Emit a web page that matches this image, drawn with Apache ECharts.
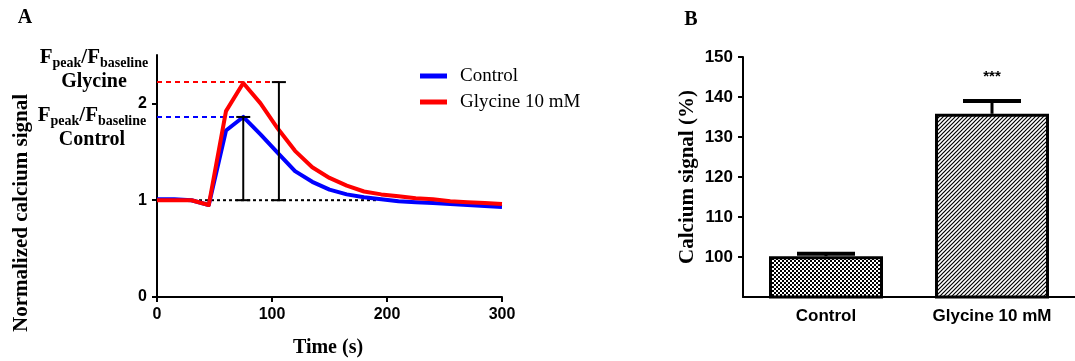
<!DOCTYPE html>
<html>
<head>
<meta charset="utf-8">
<script src="https://cdn.jsdelivr.net/npm/echarts@6/dist/echarts.min.js"></script>
<style>
html,body{margin:0;padding:0;background:#fff;}
#chart{width:1075px;height:361px;}
</style>
</head>
<body>
<div id="chart"></div>
<script>
// ---- Panel A data ----
const times = [0,15,30,45,60,75,90,105,120,135,150,165,180,195,210,225,240,255,270,285,300];
const controlSignal = [1.01,1.01,1.00,0.95,1.72,1.86,1.68,1.49,1.30,1.19,1.11,1.06,1.03,1.01,0.99,0.98,0.97,0.96,0.95,0.94,0.93];
const glycineSignal = [1.00,1.00,1.00,0.95,1.92,2.21,2.00,1.74,1.51,1.34,1.23,1.15,1.09,1.06,1.04,1.02,1.01,0.99,0.98,0.97,0.96];
const baselineValue = 1;
const baselineEnd = 191;
const peakTimes = [75, 106];
const peakValues = [1.86, 2.22];
const peakDashEnds = [80, 106];
const xTicksA = [0, 100, 200, 300];
const yTicksA = [0, 1, 2];

// ---- Panel B data ----
const barCategories = ['Control', 'Glycine 10 mM'];
const barMeans = [100.2, 135.8];
const barErrors = [0.6, 3.2];
const sigLabels = ['', '***'];
const yTicksB = [100, 110, 120, 130, 140, 150];

// ---- patterns ----
function checkerPattern() {
  const c = document.createElement('canvas');
  c.width = 4; c.height = 4;
  const g = c.getContext('2d');
  g.fillStyle = '#000'; g.fillRect(0, 0, 4, 4);
  g.fillStyle = '#fff'; g.fillRect(0, 0, 2, 2); g.fillRect(2, 2, 2, 2);
  return c;
}
function hatchPattern() {
  const s = 4;
  const c = document.createElement('canvas');
  c.width = s; c.height = s;
  const g = c.getContext('2d');
  g.fillStyle = '#fff'; g.fillRect(0, 0, s, s);
  g.strokeStyle = '#000'; g.lineWidth = 1.2;
  g.beginPath();
  g.moveTo(-1, s + 1); g.lineTo(s + 1, -1);
  g.moveTo(-1, 1); g.lineTo(1, -1);
  g.moveTo(s - 1, s + 1); g.lineTo(s + 1, s - 1);
  g.stroke();
  return c;
}
const patterns = [checkerPattern(), hatchPattern()];

const SERIF = 'Liberation Serif';
const SANS = 'Liberation Sans';
const axisLine = { lineStyle: { color: '#000', width: 2 } };
const axisTick = { length: 5, lineStyle: { color: '#000', width: 2 } };

const chart = echarts.init(document.getElementById('chart'), null, { renderer: 'canvas' });

const option = {
  animation: false,
  backgroundColor: '#fff',
  grid: [
    { left: 157, top: 55, width: 345, height: 242 },
    { left: 743, top: 57, width: 342, height: 240 }
  ],
  legend: {
    data: ['Control', 'Glycine 10 mM'],
    left: 415, top: 59, orient: 'vertical',
    itemWidth: 27, itemHeight: 5, itemGap: 2,
    icon: 'rect', selectedMode: false,
    textStyle: { fontFamily: SERIF, fontSize: 19, color: '#000', lineHeight: 24, padding: [0, 0, 0, 8] }
  },
  xAxis: [
    {
      type: 'value', gridIndex: 0, min: 0, max: 300, interval: 100,
      axisLine: axisLine, axisTick: Object.assign({ customValues: xTicksA }, axisTick),
      splitLine: { show: false },
      axisLabel: { customValues: xTicksA, margin: 10, fontFamily: SANS, fontWeight: 'bold', fontSize: 16, color: '#000' }
    },
    {
      type: 'category', gridIndex: 1, data: barCategories,
      axisLine: axisLine,
      axisTick: { alignWithLabel: true, length: 6, lineStyle: { color: '#000', width: 2 } },
      axisLabel: { margin: 11, fontFamily: SANS, fontWeight: 'bold', fontSize: 17, color: '#000' }
    }
  ],
  yAxis: [
    {
      type: 'value', gridIndex: 0, min: 0, max: 2.5, interval: 0.5,
      axisLine: { show: true, lineStyle: { color: '#000', width: 2 } },
      axisTick: Object.assign({ show: true, customValues: yTicksA }, axisTick),
      splitLine: { show: false },
      axisLabel: { customValues: yTicksA, margin: 10, fontFamily: SANS, fontWeight: 'bold', fontSize: 16, color: '#000' }
    },
    {
      type: 'value', gridIndex: 1, min: 90, max: 150, interval: 10,
      axisLine: { show: true, lineStyle: { color: '#000', width: 2 } },
      axisTick: Object.assign({ show: true, customValues: yTicksB }, axisTick),
      splitLine: { show: false },
      axisLabel: { customValues: yTicksB, margin: 10, fontFamily: SANS, fontWeight: 'bold', fontSize: 17, color: '#000' }
    }
  ],
  series: [
    {
      name: 'baseline', type: 'line', xAxisIndex: 0, yAxisIndex: 0, symbol: 'none', silent: true,
      data: [[0, baselineValue], [baselineEnd, baselineValue]],
      lineStyle: { color: '#000', width: 2, type: [3, 3] }, z: 1
    },
    {
      name: 'peakControlLine', type: 'line', xAxisIndex: 0, yAxisIndex: 0, symbol: 'none', silent: true,
      data: [[0, peakValues[0]], [peakDashEnds[0], peakValues[0]]],
      lineStyle: { color: '#0000ff', width: 2, type: [5, 4] }, z: 1
    },
    {
      name: 'peakGlycineLine', type: 'line', xAxisIndex: 0, yAxisIndex: 0, symbol: 'none', silent: true,
      data: [[0, peakValues[1]], [peakDashEnds[1], peakValues[1]]],
      lineStyle: { color: '#ff0000', width: 2, type: [5, 4] }, z: 1
    },
    {
      name: 'Control', type: 'line', xAxisIndex: 0, yAxisIndex: 0, symbol: 'none',
      data: times.map((t, i) => [t, controlSignal[i]]),
      itemStyle: { color: '#0000ff' },
      lineStyle: { color: '#0000ff', width: 4, join: 'round' }, z: 3
    },
    {
      name: 'Glycine 10 mM', type: 'line', xAxisIndex: 0, yAxisIndex: 0, symbol: 'none',
      data: times.map((t, i) => [t, glycineSignal[i]]),
      itemStyle: { color: '#ff0000' },
      lineStyle: { color: '#ff0000', width: 4, join: 'round' }, z: 4
    },
    {
      name: 'peakBars', type: 'custom', xAxisIndex: 0, yAxisIndex: 0, silent: true, z: 5,
      data: peakTimes.map((t, i) => [t, baselineValue, peakValues[i]]),
      encode: { x: 0, y: [1, 2] },
      renderItem: function (params, api) {
        const lo = api.coord([api.value(0), api.value(1)]);
        const hi = api.coord([api.value(0), api.value(2)]);
        const w = 7;
        const st = { stroke: '#000', lineWidth: 2 };
        return {
          type: 'group', children: [
            { type: 'line', shape: { x1: lo[0], y1: lo[1], x2: hi[0], y2: hi[1] }, style: st },
            { type: 'line', shape: { x1: lo[0] - w, y1: lo[1], x2: lo[0] + w, y2: lo[1] }, style: st },
            { type: 'line', shape: { x1: hi[0] - w, y1: hi[1], x2: hi[0] + w, y2: hi[1] }, style: st }
          ]
        };
      }
    },
    {
      name: 'bars', type: 'bar', xAxisIndex: 1, yAxisIndex: 1, barWidth: 114,
      data: barMeans.map((v, i) => ({
        value: v,
        itemStyle: { color: { image: patterns[i], repeat: 'repeat' }, borderColor: '#000', borderWidth: 3 }
      })),
      z: 2
    },
    {
      name: 'barErrors', type: 'custom', xAxisIndex: 1, yAxisIndex: 1, silent: true, z: 3,
      data: barMeans.map((v, i) => [i, v, v + barErrors[i]]),
      encode: { x: 0, y: [1, 2] },
      renderItem: function (params, api) {
        const lo = api.coord([api.value(0), api.value(1)]);
        const hi = api.coord([api.value(0), api.value(2)]);
        const w = 29;
        const children = [
          { type: 'line', shape: { x1: lo[0], y1: lo[1], x2: hi[0], y2: hi[1] }, style: { stroke: '#000', lineWidth: 3 } },
          { type: 'line', shape: { x1: hi[0] - w, y1: hi[1], x2: hi[0] + w, y2: hi[1] }, style: { stroke: '#000', lineWidth: 4 } }
        ];
        const s = sigLabels[params.dataIndex];
        if (s) {
          children.push({ type: 'text', x: hi[0], y: hi[1] - 24,
            style: { text: s, fontFamily: SANS, fontWeight: 'bold', fontSize: 15, fill: '#000', align: 'center', verticalAlign: 'middle' } });
        }
        return { type: 'group', children: children };
      }
    }
  ],
  graphic: [
    { type: 'text', x: 25, y: 18, style: { text: 'A', fontFamily: SERIF, fontWeight: 'bold', fontSize: 20, fill: '#000', align: 'center', verticalAlign: 'middle' } },
    { type: 'text', x: 691, y: 20, style: { text: 'B', fontFamily: SERIF, fontWeight: 'bold', fontSize: 20, fill: '#000', align: 'center', verticalAlign: 'middle' } },
    { type: 'text', x: 22, y: 213, rotation: Math.PI / 2, style: { text: 'Normalized calcium signal', fontFamily: SERIF, fontWeight: 'bold', fontSize: 21, fill: '#000', align: 'center', verticalAlign: 'middle' } },
    { type: 'text', x: 328, y: 348, style: { text: 'Time (s)', fontFamily: SERIF, fontWeight: 'bold', fontSize: 20, fill: '#000', align: 'center', verticalAlign: 'middle' } },
    { type: 'text', x: 688, y: 177, rotation: Math.PI / 2, style: { text: 'Calcium signal (%)', fontFamily: SERIF, fontWeight: 'bold', fontSize: 21, fill: '#000', align: 'center', verticalAlign: 'middle' } },
    { type: 'text', x: 94, y: 58, style: {
        text: '{f|F}{s|peak}{f|/F}{s|baseline}', align: 'center', verticalAlign: 'middle',
        rich: {
          f: { fontFamily: SERIF, fontWeight: 'bold', fontSize: 21, fill: '#000', lineHeight: 24, verticalAlign: 'middle' },
          s: { fontFamily: SERIF, fontWeight: 'bold', fontSize: 14, fill: '#000', lineHeight: 14, verticalAlign: 'bottom' }
        } } },
    { type: 'text', x: 94, y: 82, style: { text: 'Glycine', fontFamily: SERIF, fontWeight: 'bold', fontSize: 20, fill: '#000', align: 'center', verticalAlign: 'middle' } },
    { type: 'text', x: 92, y: 116, style: {
        text: '{f|F}{s|peak}{f|/F}{s|baseline}', align: 'center', verticalAlign: 'middle',
        rich: {
          f: { fontFamily: SERIF, fontWeight: 'bold', fontSize: 21, fill: '#000', lineHeight: 24, verticalAlign: 'middle' },
          s: { fontFamily: SERIF, fontWeight: 'bold', fontSize: 14, fill: '#000', lineHeight: 14, verticalAlign: 'bottom' }
        } } },
    { type: 'text', x: 92, y: 140, style: { text: 'Control', fontFamily: SERIF, fontWeight: 'bold', fontSize: 20, fill: '#000', align: 'center', verticalAlign: 'middle' } }
  ]
};
chart.setOption(option);
</script>
</body>
</html>
